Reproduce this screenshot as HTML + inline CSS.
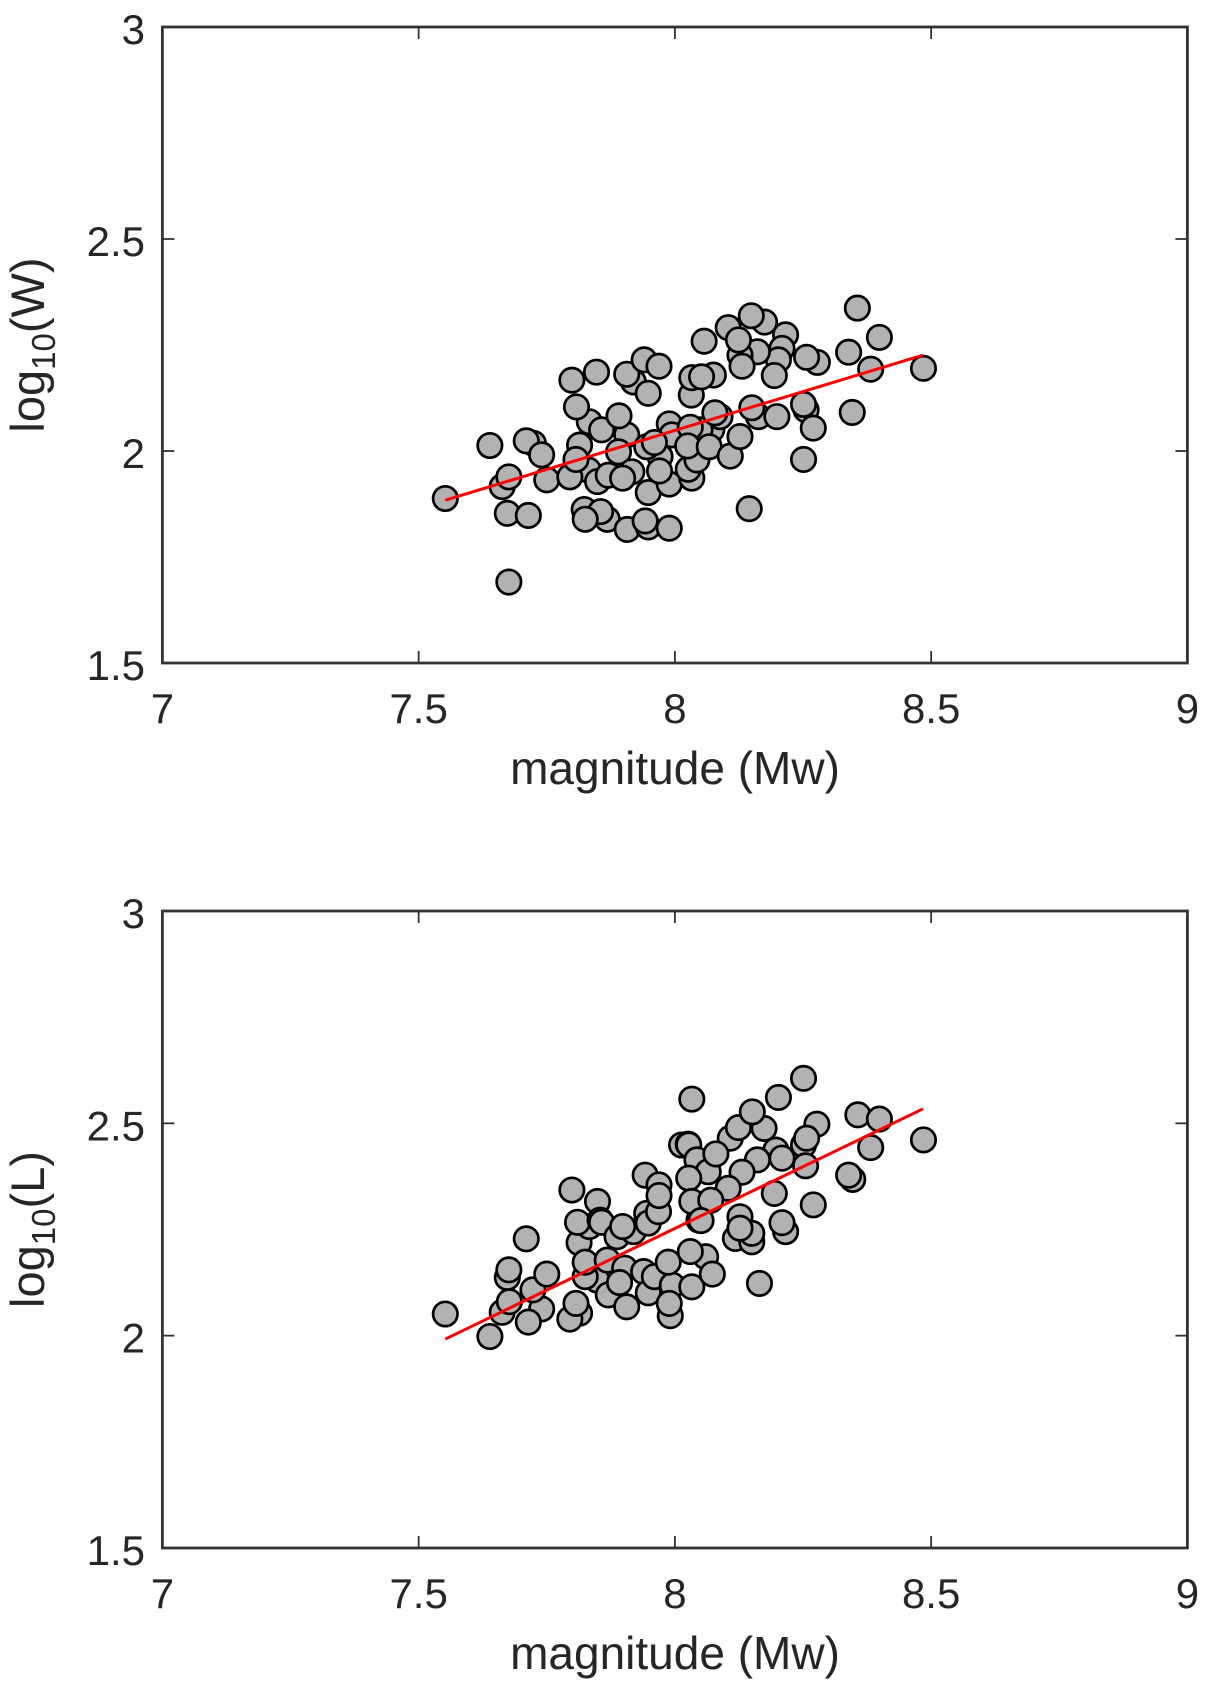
<!DOCTYPE html>
<html>
<head>
<meta charset="utf-8">
<title>Magnitude scaling of rupture width and length</title>
<style>
html,body{margin:0;padding:0;background:#fff;}
svg{display:block;}
text{font-family:"Liberation Sans",sans-serif;fill:#262626;}
</style>
</head>
<body>
<svg id="figure" width="1221" height="1686" viewBox="0 0 1221 1686" xmlns="http://www.w3.org/2000/svg"></svg>
<script>
const xTickValues = [7, 7.5, 8, 8.5, 9];
const xTickLabels = ['7', '7.5', '8', '8.5', '9'];
const yTickValues = [1.5, 2, 2.5, 3];
const yTickLabels = ['1.5', '2', '2.5', '3'];

const magnitudeW = [
7.724,7.710,7.740,7.663,7.676,7.639,7.552,7.673,7.714,7.676,7.750,7.833,7.831,7.795,7.814,7.807,
7.808,7.799,7.847,7.906,7.849,7.857,7.891,7.890,7.870,7.916,7.898,7.823,7.868,7.855,7.825,7.907,
7.948,7.942,7.989,7.948,7.919,7.906,7.940,7.969,7.948,8.032,8.033,8.075,8.052,7.989,7.994,7.971,
7.945,7.960,8.072,8.049,8.030,8.088,8.078,7.989,7.970,8.033,8.026,8.043,8.025,8.067,8.108,8.127,
8.163,8.199,8.150,8.216,8.209,8.202,8.194,8.161,8.127,8.131,8.104,8.124,8.175,8.149,8.057,8.278,
8.257,8.356,8.399,8.339,8.382,8.485,8.346,8.256,8.251,8.270,8.251,8.145];
const logW = [
2.018,2.024,1.991,1.916,1.939,2.013,1.888,1.853,1.848,1.691,1.932,2.069,1.955,1.939,2.014,1.980,
2.104,2.167,2.186,2.038,1.928,2.050,2.083,1.998,1.943,1.951,1.936,1.862,1.839,1.857,1.839,1.815,
1.821,1.835,1.818,1.902,2.163,2.181,2.215,2.200,2.136,2.132,2.173,2.179,2.175,2.064,2.038,1.987,
2.010,2.020,2.050,2.050,2.056,2.081,2.090,1.922,1.953,1.936,1.957,1.979,2.012,2.010,1.988,2.034,
2.081,2.081,2.102,2.274,2.242,2.215,2.178,2.234,2.226,2.200,2.291,2.262,2.304,2.319,2.259,2.209,
2.221,2.337,2.268,2.233,2.193,2.195,2.091,2.097,2.110,2.054,1.980,1.864];
const fitMagnitudeW = [7.552, 8.484];
const fitLogW = [1.884, 2.226];

const magnitudeL = [
7.552,7.639,7.663,7.673,7.676,7.677,7.710,7.740,7.723,7.714,7.750,7.814,7.795,7.807,7.799,7.813,
7.848,7.825,7.825,7.833,7.849,7.810,7.854,7.857,7.868,7.870,7.887,7.919,7.898,7.902,7.906,7.892,
7.945,7.948,7.968,7.942,7.969,7.969,7.939,7.948,7.960,7.995,7.987,7.991,7.989,8.033,8.060,8.030,
8.073,8.165,8.013,8.026,8.027,8.251,8.202,8.033,8.174,8.108,8.124,8.151,8.357,8.399,8.277,8.251,
8.257,8.382,8.485,8.255,8.347,8.339,8.216,8.209,8.197,8.161,8.043,8.065,8.080,8.131,8.104,8.027,
8.047,8.033,8.070,8.051,8.194,8.270,8.118,8.150,8.150,8.127,8.127,8.209];
const logL = [
2.051,1.998,2.055,2.137,2.155,2.080,2.228,2.063,2.108,2.032,2.145,2.053,2.039,2.076,2.343,2.219,
2.131,2.139,2.173,2.257,2.316,2.267,2.272,2.267,2.178,2.096,2.233,2.245,2.257,2.159,2.068,2.125,
2.288,2.265,2.292,2.378,2.355,2.330,2.151,2.101,2.139,2.119,2.173,2.047,2.076,2.115,2.186,2.198,
2.145,2.123,2.449,2.451,2.449,2.606,2.561,2.557,2.488,2.465,2.490,2.527,2.520,2.510,2.498,2.449,
2.465,2.443,2.461,2.400,2.368,2.378,2.245,2.266,2.437,2.414,2.414,2.386,2.428,2.385,2.347,2.371,
2.272,2.316,2.319,2.271,2.335,2.308,2.229,2.221,2.241,2.280,2.253,2.418];
const fitMagnitudeL = [7.552, 8.484];
const fitLogL = [1.992, 2.534];

const svgNS = 'http://www.w3.org/2000/svg';
const figure = document.getElementById('figure');
const xMin = 7, xMax = 9, yMin = 1.5, yMax = 3;
const plotLeft = 162.4, plotRight = 1187.4;

function make(parent, tag, attrs) {
  const el = document.createElementNS(svgNS, tag);
  for (const key in attrs) el.setAttribute(key, attrs[key]);
  parent.appendChild(el);
  return el;
}

function drawPanel(key, top, bottom, mags, logs, fitX, fitY, symbol) {
  const xScale = v => plotLeft + (v - xMin) / (xMax - xMin) * (plotRight - plotLeft);
  const yScale = v => bottom - (v - yMin) / (yMax - yMin) * (bottom - top);

  const panel = make(figure, 'g', {});
  
  

  const marks = make(panel, 'g', {});
  
  
  mags.forEach((m, i) => {
    const dot = make(marks, 'circle', {
      cx: xScale(m), cy: yScale(logs[i]), r: 12.2,
      fill: '#b2b2b2', stroke: '#000', 'stroke-width': 2.7
    });
    
    
  });

  const fit = make(panel, 'line', {
    x1: xScale(fitX[0]), y1: yScale(fitY[0]), x2: xScale(fitX[1]), y2: yScale(fitY[1]),
    stroke: '#ff0000', 'stroke-width': 3
  });
  
  

  const box = make(panel, 'rect', {
    x: plotLeft, y: top, width: plotRight - plotLeft, height: bottom - top,
    fill: 'none', stroke: '#333', 'stroke-width': 2.8
  });
  
  

  xTickValues.forEach((v, i) => {
    const x = xScale(v);
    if (i > 0 && i < xTickValues.length - 1) {
      const t1 = make(panel, 'line', { x1: x, x2: x, y1: bottom, y2: bottom - 12, stroke: '#333', 'stroke-width': 1.8 });
      
      
      const t2 = make(panel, 'line', { x1: x, x2: x, y1: top, y2: top + 12, stroke: '#333', 'stroke-width': 1.8 });
      
      
    }
    const label = make(panel, 'text', { x: x, y: bottom + 60, 'font-size': 42, 'text-anchor': 'middle' });
    label.textContent = xTickLabels[i];
    
    
  });

  yTickValues.forEach((v, i) => {
    const y = yScale(v);
    if (i > 0 && i < yTickValues.length - 1) {
      const t1 = make(panel, 'line', { x1: plotLeft, x2: plotLeft + 12, y1: y, y2: y, stroke: '#333', 'stroke-width': 1.8 });
      
      
      const t2 = make(panel, 'line', { x1: plotRight, x2: plotRight - 12, y1: y, y2: y, stroke: '#333', 'stroke-width': 1.8 });
      
      
    }
    const label = make(panel, 'text', { x: 145, y: y + 17, 'font-size': 42, 'text-anchor': 'end' });
    label.textContent = yTickLabels[i];
    
    
  });

  const xTitle = make(panel, 'text', { x: 675, y: bottom + 121, 'font-size': 46, 'text-anchor': 'middle' });
  xTitle.textContent = 'magnitude (Mw)';
  
  

  const centerY = (top + bottom) / 2;
  const yTitle = make(panel, 'text', {
    transform: 'translate(44 ' + centerY + ') rotate(-90)',
    'font-size': 47, 'text-anchor': 'middle'
  });
  
  
  const a = make(yTitle, 'tspan', {});
  a.textContent = 'log';
  const b = make(yTitle, 'tspan', { dy: 11, 'font-size': 33 });
  b.textContent = '10';
  const c = make(yTitle, 'tspan', { dy: -11 });
  c.textContent = '(' + symbol + ')';
}

drawPanel('width', 27, 663, magnitudeW, logW, fitMagnitudeW, fitLogW, 'W');
drawPanel('length', 911, 1548, magnitudeL, logL, fitMagnitudeL, fitLogL, 'L');
</script>
</body>
</html>
